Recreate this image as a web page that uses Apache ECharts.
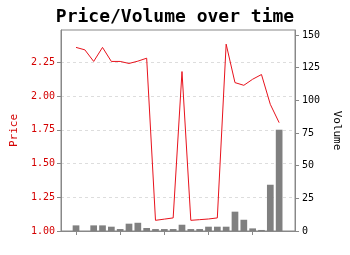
<!DOCTYPE html>
<html>
<head>
<meta charset="utf-8">
<script src="https://cdn.jsdelivr.net/npm/echarts@6/dist/echarts.min.js"></script>
<style>html,body{margin:0;padding:0;background:#fff}#c{width:350px;height:255px}</style>
</head>
<body>
<div id="c"></div>
<script>
var dayIndex = [0,1,2,3,4,5,6,7,8,9,10,11,12,13,14,15,16,17,18,19,20,21,22,23];
var price = [2.361,2.343,2.257,2.361,2.257,2.257,2.242,2.259,2.281,1.079,1.088,1.097,2.182,1.079,1.084,1.089,1.097,2.385,2.100,2.080,2.125,2.160,1.939,1.803];
var volume = [4.3,0,4.3,4.3,3.3,1.5,5.6,6.3,2.3,1.5,1.5,1.5,4.8,1.5,1.5,3.3,3.3,3.3,14.8,8.6,2.0,0.8,35.4,77.5];
var xTicks = [0,5,10,15,20];
var priceTicks = [1.00,1.25,1.50,1.75,2.00,2.25];
var volumeTicks = [0,25,50,75,100,125,150];

var FONT = '"DejaVu Sans Mono", monospace';
var RED = '#d40000';
var GREY = '#888888';

var chart = echarts.init(document.getElementById('c'), null, {renderer:'canvas'});
chart.setOption({
  animation: false,
  backgroundColor: '#ffffff',
  title: {
    text: 'Price/Volume over time',
    left: 'center',
    top: 3,
    textStyle: {fontFamily: FONT, fontSize: 18, fontWeight: 'bold', color: '#000'}
  },
  grid: {left: 61, right: 54, top: 30, bottom: 24, show: true, borderColor: GREY, borderWidth: 1, backgroundColor: 'transparent'},
  xAxis: {
    type: 'value', min: -1.7, max: 24.8,
    axisLine: {show: true, onZero: false, lineStyle: {color: GREY}},
    axisTick: {show: true, customValues: xTicks, length: 4, lineStyle: {color: GREY}},
    axisLabel: {show: false},
    splitLine: {show: false}
  },
  yAxis: [
    {
      type: 'value', position: 'left', min: 1.0, max: 2.49, interval: 0.25,
      name: 'Price', nameLocation: 'middle', nameGap: 34, nameRotate: 90,
      nameTextStyle: {fontFamily: FONT, fontSize: 11, color: RED},
      axisLine: {show: true, onZero: false, lineStyle: {color: GREY}},
      axisTick: {show: true, customValues: priceTicks, length: 4, lineStyle: {color: GREY}},
      axisLabel: {customValues: priceTicks, fontFamily: FONT, fontSize: 10, color: RED, margin: 6,
        formatter: function(v){return v.toFixed(2);}},
      splitLine: {show: true, lineStyle: {color: '#dddddd', type: [3,3], width: 1}}
    },
    {
      type: 'value', position: 'right', min: 0, max: 153.8, interval: 25,
      name: 'Volume', nameLocation: 'middle', nameGap: 26, nameRotate: -90,
      nameTextStyle: {fontFamily: FONT, fontSize: 11, color: '#000'},
      axisLine: {show: true, onZero: false, lineStyle: {color: GREY}},
      axisTick: {show: true, customValues: volumeTicks, length: 4, lineStyle: {color: GREY}},
      axisLabel: {customValues: volumeTicks, fontFamily: FONT, fontSize: 10, color: '#000', margin: 7},
      splitLine: {show: false}
    }
  ],
  series: [
    {
      type: 'bar', yAxisIndex: 1, barWidth: 6.7,
      data: dayIndex.map(function(d,i){return [d, volume[i]];}),
      itemStyle: {color: '#808080'},
      z: 2
    },
    {
      type: 'line', yAxisIndex: 0,
      data: dayIndex.map(function(d,i){return [d, price[i]];}),
      showSymbol: false, symbol: 'none',
      lineStyle: {color: '#e8121c', width: 1},
      z: 3
    }
  ]
});
</script>
</body>
</html>
